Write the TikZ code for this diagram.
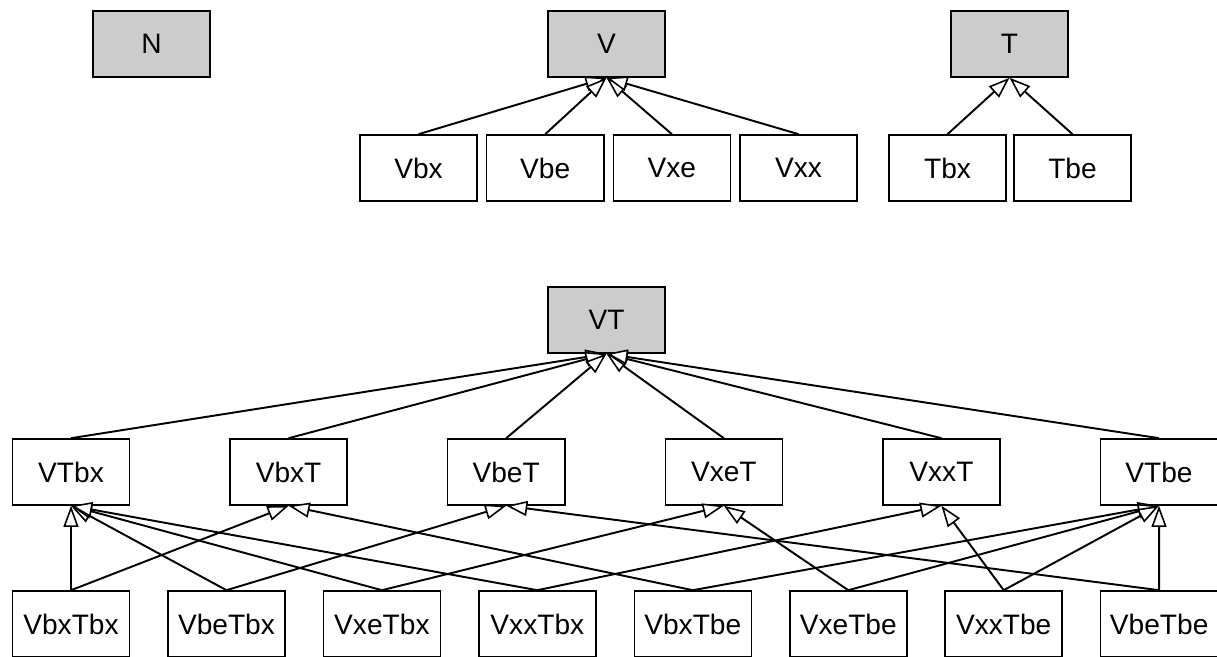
\documentclass[tikz,border=0pt]{standalone}
\usepackage{fontspec}
\setmainfont{Liberation Sans}
\usetikzlibrary{positioning, arrows.meta}
\tikzset{
isa/.style={draw, line width=1.1pt, -{Triangle[fill=white, length=12pt, width=8.5pt, line width=0.9pt]}}, % hollow inheritance heads
every edge/.append style={isa}, % every edge points from the child up to its parent
node distance=2.534cm, % center to center in a row. Changed per row below.
every node/.style={font=\fontsize{16}{19}\selectfont},
cls/.style={draw, line width=0.9pt, minimum width=2.34cm, minimum height=1.32cm, inner sep=0pt}, % a plain class box
base/.style={cls, fill=black!20}, % the grey base classes
}
\begin{document}
\begin{tikzpicture}
                \useasboundingbox (0,0) rectangle (24.34,13.14);
                \node[base] (N) at (3.03,12.26) {N};
                \node[base] (V) at (12.13,12.26) {V};
                \node[base] (T) at (20.19,12.26) {T};

                \node[cls] (Vbx) at (8.37,9.78) {Vbx};
                \node[cls, right of=Vbx] (Vbe) {Vbe};
                \node[cls, right of=Vbe] (Vxe) {Vxe};
                \node[cls, right of=Vxe] (Vxx) {Vxx};
                \node[cls] (Tbx) at (18.95,9.78) {Tbx};
                \node[cls, right of=Tbx, node distance=2.5cm] (Tbe) {Tbe};

                \node[base] (VT) at (12.13,6.74) {VT};

                \node[cls] (VTbx) at (1.42,3.70) {VTbx};
                \node[cls, right of=VTbx, node distance=4.352cm] (VbxT) {VbxT};
                \node[cls, right of=VbxT, node distance=4.352cm] (VbeT) {VbeT};
                \node[cls, right of=VbeT, node distance=4.352cm] (VxeT) {VxeT};
                \node[cls, right of=VxeT, node distance=4.352cm] (VxxT) {VxxT};
                \node[cls, right of=VxxT, node distance=4.352cm] (VTbe) {VTbe};

                \node[cls] (VbxTbx) at (1.42,0.66) {VbxTbx};
                \node[cls, right of=VbxTbx, node distance=3.109cm] (VbeTbx) {VbeTbx};
                \node[cls, right of=VbeTbx, node distance=3.109cm] (VxeTbx) {VxeTbx};
                \node[cls, right of=VxeTbx, node distance=3.109cm] (VxxTbx) {VxxTbx};
                \node[cls, right of=VxxTbx, node distance=3.109cm] (VbxTbe) {VbxTbe};
                \node[cls, right of=VbxTbe, node distance=3.109cm] (VxeTbe) {VxeTbe};
                \node[cls, right of=VxeTbe, node distance=3.109cm] (VxxTbe) {VxxTbe};
                \node[cls, right of=VxxTbe, node distance=3.109cm] (VbeTbe) {VbeTbe};

                \path
                    (Vbx.north) edge (V.south)
                    (Vbe.north) edge (V.south)
                    (Vxe.north) edge (V.south)
                    (Vxx.north) edge (V.south)
                    (Tbx.north) edge (T.south)
                    (Tbe.north) edge (T.south)
                    (VTbx.north) edge (VT.south)
                    (VbxT.north) edge (VT.south)
                    (VbeT.north) edge (VT.south)
                    (VxeT.north) edge (VT.south)
                    (VxxT.north) edge (VT.south)
                    (VTbe.north) edge (VT.south)
                    (VbxTbx.north) edge (VTbx.south)
                    (VbxTbx.north) edge (VbxT.south)
                    (VbeTbx.north) edge (VTbx.south)
                    (VbeTbx.north) edge (VbeT.south)
                    (VxeTbx.north) edge (VTbx.south)
                    (VxeTbx.north) edge (VxeT.south)
                    (VxxTbx.north) edge (VTbx.south)
                    (VxxTbx.north) edge (VxxT.south)
                    (VbxTbe.north) edge (VbxT.south)
                    (VbxTbe.north) edge (VTbe.south)
                    (VxeTbe.north) edge (VxeT.south)
                    (VxeTbe.north) edge (VTbe.south)
                    (VxxTbe.north) edge (VxxT.south)
                    (VxxTbe.north) edge (VTbe.south)
                    (VbeTbe.north) edge (VbeT.south)
                    (VbeTbe.north) edge (VTbe.south)
                    ;
\end{tikzpicture}
\end{document}
